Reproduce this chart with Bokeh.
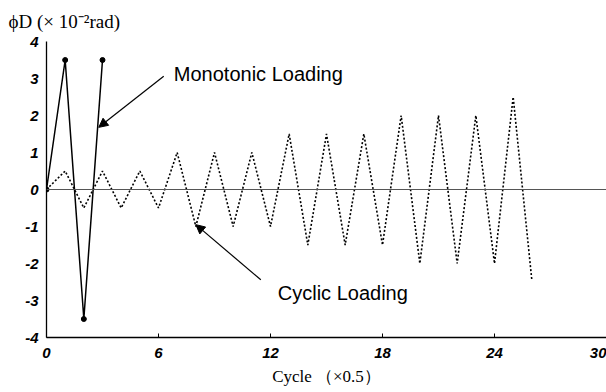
from bokeh.plotting import figure
from bokeh.models import (Span, Arrow, NormalHead, Label, FixedTicker, Range1d)
from bokeh.embed import file_html
from bokeh.resources import INLINE

# ---- data ----
mono_x = [0, 1, 2, 3]
mono_y = [0, 3.5, -3.5, 3.5]

cyc_x = list(range(0, 27))
cyc_y = [0, 0.5, -0.5, 0.5, -0.5, 0.5, -0.5,
         1.0, -1.0, 1.0, -1.0, 1.0, -1.0,
         1.5, -1.5, 1.5, -1.5, 1.5, -1.5,
         2.0, -2.0, 2.0, -2.0, 2.0, -2.0,
         2.5, -2.45]

x_ticks = [0, 6, 12, 18, 24, 30]
y_ticks = [-4, -3, -2, -1, 0, 1, 2, 3, 4]

title_text = "ϕD (× 10⁻²rad)"
x_label = "Cycle （×0.5）"
mono_label = "Monotonic Loading"
cyc_label = "Cyclic Loading"

p = figure(width=606, height=392, output_backend="svg", toolbar_location=None,
           x_range=Range1d(0, 30), y_range=Range1d(-4, 4),
           min_border_left=46, min_border_right=0, min_border_top=0, min_border_bottom=55)
p.outline_line_color = None
p.grid.visible = False
p.background_fill_color = "white"

# title
p.title.text = title_text
p.title.align = "left"
p.title.offset = -38
p.title.standoff = 18
p.title.vertical_align = "middle"
p.title.text_line_height = 1.6
p.title.text_font = "Liberation Serif"
p.title.text_font_size = "19px"
p.title.text_font_style = "normal"
p.title.text_color = "black"

# x axis
xa = p.xaxis[0]
xa.ticker = FixedTicker(ticks=x_ticks)
xa.minor_tick_line_color = None
xa.major_tick_in = 4
xa.major_tick_out = 0
xa.axis_line_color = "black"
xa.axis_line_width = 1.5
xa.major_tick_line_color = "black"
xa.major_label_text_font = "Liberation Sans"
xa.major_label_text_font_style = "bold italic"
xa.major_label_text_font_size = "15px"
xa.major_label_text_color = "black"
xa.major_label_standoff = 10
xa.axis_label = x_label
xa.axis_label_text_font = "Liberation Serif"
xa.axis_label_text_font_size = "17px"
xa.axis_label_text_font_style = "normal"
xa.axis_label_text_color = "black"
xa.axis_label_standoff = 6

# y axis
ya = p.yaxis[0]
ya.ticker = FixedTicker(ticks=y_ticks)
ya.major_label_overrides = {t: str(t) for t in y_ticks}
ya.minor_tick_line_color = None
ya.major_tick_in = 0
ya.major_tick_out = 0
ya.axis_line_color = "black"
ya.axis_line_width = 1.3
ya.major_label_text_font = "Liberation Sans"
ya.major_label_text_font_style = "bold italic"
ya.major_label_text_font_size = "15px"
ya.major_label_text_color = "black"
ya.major_label_standoff = 8

# zero line
p.add_layout(Span(location=0, dimension="width", line_color="#555555", line_width=1))

# cyclic loading (dotted)
p.line(cyc_x, cyc_y, line_color="black", line_width=1.6, line_dash="2 2")

# monotonic loading
p.line(mono_x, mono_y, line_color="black", line_width=1.5)
p.scatter(mono_x, mono_y, size=5, color="black")

# annotations
p.add_layout(Label(x=6.82, y=3.12, text=mono_label, text_baseline="middle",
                   text_font="Liberation Sans", text_font_size="20px", text_color="black"))
p.add_layout(Label(x=12.39, y=-2.79, text=cyc_label, text_baseline="middle",
                   text_font="Liberation Sans", text_font_size="20px", text_color="black"))

p.add_layout(Arrow(end=NormalHead(size=9, fill_color="black", line_color="black"),
                   x_start=6.28, y_start=3.06, x_end=2.8, y_end=1.68,
                   line_color="black", line_width=1.2))
p.add_layout(Arrow(end=NormalHead(size=9, fill_color="black", line_color="black"),
                   x_start=11.48, y_start=-2.44, x_end=8.0, y_end=-0.95,
                   line_color="black", line_width=1.2))

open("out.html", "w").write(file_html(p, INLINE))
